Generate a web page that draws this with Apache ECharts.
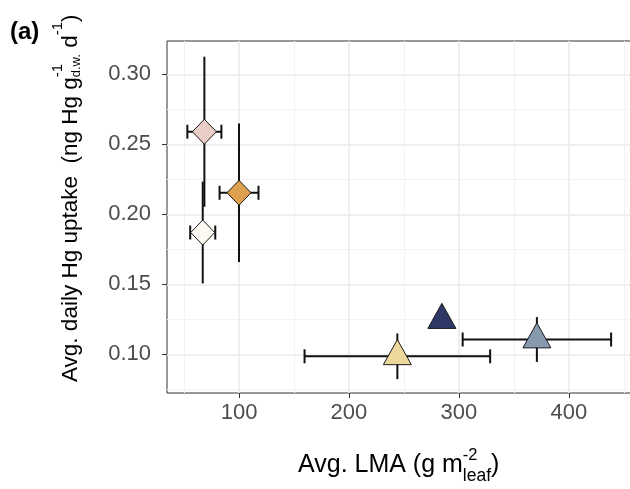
<!DOCTYPE html>
<html>
<head>
<meta charset="utf-8">
<script src="https://cdn.jsdelivr.net/npm/echarts@6/dist/echarts.min.js"></script>
<style>html,body{margin:0;padding:0;background:#fff;}#c{width:630px;height:489px;}</style>
</head>
<body>
<div id="c"></div>
<script>
// ---- data ----
const groups     = ['G1', 'G2', 'G3', 'G4', 'G5', 'G6'];
const lma        = [68.5, 67.0, 100.0, 284.5, 370.9, 244.0];     // Avg. LMA (g m-2 leaf)
const lmaErr     = [15.5, 11.4, 17.7, null, 67.5, 84.4];
const uptake     = [0.259, 0.187, 0.2154, 0.1245, 0.1106, 0.0986]; // Avg. daily Hg uptake
const uptakeErr  = [0.0536, 0.0364, 0.0495, null, 0.016, 0.0163];
const xTicks     = [100, 200, 300, 400];
const xMinor     = [50, 150, 250, 350, 450];
const yTicks     = [0.10, 0.15, 0.20, 0.25, 0.30];
const yMinor     = [0.075, 0.125, 0.175, 0.225, 0.275];

// ---- styles ----
const X_MIN = 34.5, X_MAX = 456.5, Y_MIN = 0.0724, Y_MAX = 0.3238;
const groupStyle = {
  G1: {color: '#E9CEC5', shape: 'diamond'},
  G2: {color: '#FBF9F1', shape: 'diamond'},
  G3: {color: '#DCA04F', shape: 'diamond'},
  G4: {color: '#2E3867', shape: 'triangle'},
  G5: {color: '#8799AC', shape: 'triangle'},
  G6: {color: '#EDD89B', shape: 'triangle'}
};
const FONT = '"Liberation Sans", Arial, sans-serif';

const ctx = document.createElement('canvas').getContext('2d');
function tw(t, size, weight) { ctx.font = (weight || 'normal') + ' ' + size + 'px ' + FONT; return ctx.measureText(t).width; }
function tok(p, x) {
  return {type: 'text', x: x, y: (p.dy || 0) - 0.31 * p.size,
    style: {text: p.t, fontSize: p.size, fontFamily: FONT, fill: '#000', align: 'left', verticalAlign: 'middle'}};
}
function buildLabel(parts) {
  let x = 0; const kids = [];
  parts.forEach(p => {
    if (p.stack) {
      let mw = 0;
      p.stack.forEach(q => { kids.push(tok(q, x)); mw = Math.max(mw, tw(q.t, q.size)); });
      x += mw;
    } else { kids.push(tok(p, x)); x += tw(p.t, p.size); }
  });
  return {kids: kids, width: x};
}
const xLab = buildLabel([
  {t: 'Avg. LMA (g m', size: 25},
  {stack: [{t: '-2', size: 16.5, dy: -12.5}, {t: 'leaf', size: 17.5, dy: 8.5}]},
  {t: ')', size: 25}
]);
const yLab = buildLabel([
  {t: 'Avg. daily Hg uptake  (ng Hg g', size: 22.5},
  {stack: [{t: '-1', size: 15, dy: -15}, {t: 'd.w.', size: 13, dy: 2}]},
  {t: ' d', size: 22.5},
  {t: '-1', size: 15, dy: -15},
  {t: ')', size: 22.5}
]);

const seriesData = groups.map((g, i) => [lma[i], uptake[i], lmaErr[i] == null ? 0 : lmaErr[i], uptakeErr[i] == null ? 0 : uptakeErr[i]]);

function markerShape(shape, cx, cy) {
  if (shape === 'diamond') {
    return [[cx, cy - 12.5], [cx + 12, cy], [cx, cy + 12.5], [cx - 12, cy]];
  }
  // ggplot-style triangle: point at centroid
  const r = 16.7, hw = 14;
  return [[cx, cy - r], [cx + hw, cy + r / 2], [cx - hw, cy + r / 2]];
}

const chart = echarts.init(document.getElementById('c'), null, {renderer: 'canvas'});
const baseAxis = {type: 'value', gridIndex: 0};
chart.setOption({
  animation: false,
  backgroundColor: '#fff',
  grid: {left: 167, top: 41, width: 464, height: 352, show: true, borderColor: '#333', borderWidth: 1, backgroundColor: 'transparent', containLabel: false, outerBoundsMode: 'none'},
  xAxis: [
    Object.assign({}, baseAxis, {min: X_MIN, max: X_MAX, position: 'bottom', z: 2,
      axisLine: {show: false},
      axisTick: {show: true, length: 5, customValues: xTicks, lineStyle: {color: '#333', width: 1}},
      axisLabel: {show: true, customValues: xTicks, margin: 9, color: '#4D4D4D', fontSize: 22, fontFamily: FONT},
      splitLine: {show: true, lineStyle: {color: '#EBEBEB', width: 1.6}}}),
    Object.assign({}, baseAxis, {min: X_MIN, max: X_MAX, position: 'bottom', z: 1,
      axisLine: {show: false},
      axisTick: {show: false, customValues: xMinor},
      axisLabel: {show: false, customValues: xMinor},
      splitLine: {show: true, lineStyle: {color: '#F3F3F3', width: 1}}})
  ],
  yAxis: [
    Object.assign({}, baseAxis, {min: Y_MIN, max: Y_MAX, position: 'left', z: 2,
      axisLine: {show: false},
      axisTick: {show: true, length: 5, customValues: yTicks, lineStyle: {color: '#333', width: 1}},
      axisLabel: {show: true, customValues: yTicks, margin: 16, color: '#4D4D4D', fontSize: 22, fontFamily: FONT,
        formatter: v => Number(v).toFixed(2)},
      splitLine: {show: true, lineStyle: {color: '#EBEBEB', width: 1.6}}}),
    Object.assign({}, baseAxis, {min: Y_MIN, max: Y_MAX, position: 'left', z: 1,
      axisLine: {show: false},
      axisTick: {show: false, customValues: yMinor},
      axisLabel: {show: false, customValues: yMinor},
      splitLine: {show: true, lineStyle: {color: '#F3F3F3', width: 1}}})
  ],
  series: [
    {
      type: 'custom', xAxisIndex: 0, yAxisIndex: 0, z: 3, clip: false, silent: true,
      itemStyle: {opacity: 1},
      data: seriesData,
      renderItem: function (params, api) {
        const x = api.value(0), y = api.value(1), ex = api.value(2), ey = api.value(3);
        const st = groupStyle[groups[params.dataIndex]];
        const kids = [];
        const ls = {stroke: '#111', lineWidth: 2, opacity: 1};
        if (ey > 0) {
          const a = api.coord([x, y - ey]), b = api.coord([x, y + ey]);
          kids.push({type: 'line', z2: 1, shape: {x1: a[0], y1: a[1], x2: b[0], y2: b[1]}, style: ls});
        }
        if (ex > 0) {
          const a = api.coord([x - ex, y]), b = api.coord([x + ex, y]);
          kids.push({type: 'line', z2: 1, shape: {x1: a[0], y1: a[1], x2: b[0], y2: b[1]}, style: ls});
          kids.push({type: 'line', z2: 1, shape: {x1: a[0], y1: a[1] - 7, x2: a[0], y2: a[1] + 7}, style: ls});
          kids.push({type: 'line', z2: 1, shape: {x1: b[0], y1: b[1] - 7, x2: b[0], y2: b[1] + 7}, style: ls});
        }
        const c = api.coord([x, y]);
        kids.push({type: 'polygon', z2: 50, shape: {points: markerShape(st.shape, c[0], c[1])},
          style: {fill: st.color, stroke: '#1a1a1a', lineWidth: 1, opacity: 1, fillOpacity: 1}});
        return {type: 'group', children: kids};
      }
    }
  ],
  graphic: [
    {type: 'text', x: 10, y: 32, style: {text: '(a)', fontSize: 24, fontWeight: 'bold', fontFamily: FONT, fill: '#000', align: 'left', verticalAlign: 'middle'}},
    {type: 'group', x: 298, y: 473, children: xLab.kids},
    {type: 'group', x: 78, y: 382, rotation: Math.PI / 2, children: yLab.kids}
  ]
});
</script>
</body>
</html>
